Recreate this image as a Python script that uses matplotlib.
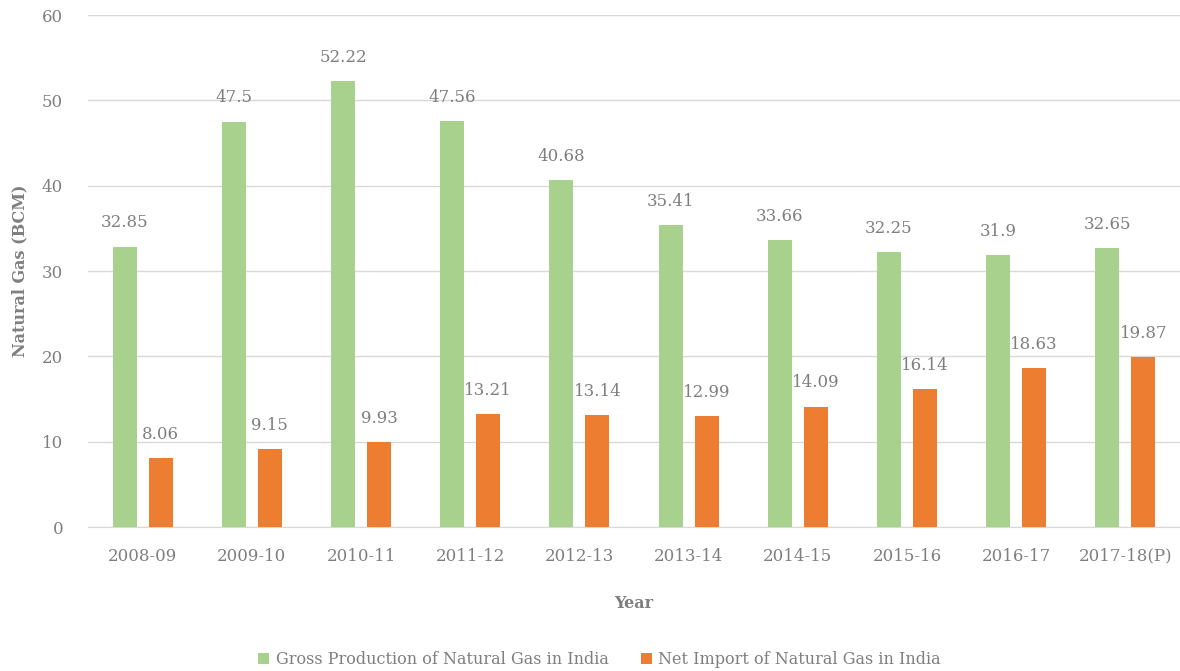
import numpy as np
import matplotlib
matplotlib.use("Agg")
import matplotlib.pyplot as plt

years = ["2008-09", "2009-10", "2010-11", "2011-12", "2012-13",
         "2013-14", "2014-15", "2015-16", "2016-17", "2017-18(P)"]
production = [32.85, 47.5, 52.22, 47.56, 40.68, 35.41, 33.66, 32.25, 31.9, 32.65]
net_import = [8.06, 9.15, 9.93, 13.21, 13.14, 12.99, 14.09, 16.14, 18.63, 19.87]

plt.rcParams['font.family'] = ['DejaVu Serif']
grey = '#7f7f7f'

fig = plt.figure(figsize=(11.8, 6.71), dpi=100)
ax = fig.add_axes([0.0746, 0.2146, 0.9254, 0.763])

x = np.arange(len(years))
w = 0.22
off = 0.165
b1 = ax.bar(x - off, production, w, color='#a9d18e', label='Gross Production of Natural Gas in India', zorder=3)
b2 = ax.bar(x + off, net_import, w, color='#ed7d31', label='Net Import of Natural Gas in India', zorder=3)

for bars in (b1, b2):
    for r in bars:
        h = r.get_height()
        ax.annotate('{:g}'.format(h), xy=(r.get_x() + r.get_width() / 2, h),
                    xytext=(0, 11), textcoords='offset points', ha='center', va='bottom',
                    fontsize=12, color=grey)

ax.set_ylim(0, 60)
ax.set_xlim(-0.5, len(years) - 0.5)
ax.set_yticks(range(0, 61, 10))
ax.set_xticks(x)
ax.set_xticklabels(years)
ax.tick_params(axis='both', length=0, colors=grey, labelsize=12)
ax.tick_params(axis='x', pad=15)
ax.tick_params(axis='y', pad=18)
ax.yaxis.grid(True, color='#d9d9d9', linewidth=1, zorder=0)
for s in ['top', 'right', 'left']:
    ax.spines[s].set_visible(False)
ax.spines['bottom'].set_color('#d9d9d9')

ax.set_ylabel('Natural Gas (BCM)', fontsize=11.5, fontweight='bold', color=grey, labelpad=10)
ax.set_xlabel('Year', fontsize=11.5, fontweight='bold', color=grey, labelpad=22)

leg = fig.legend(loc='lower center', bbox_to_anchor=(0.508, -0.017), ncol=2, frameon=False,
                 fontsize=11.5, handlelength=0.7, handleheight=0.7, columnspacing=2.0,
                 handletextpad=0.4)
for t in leg.get_texts():
    t.set_color(grey)

fig.savefig('out.png', dpi=100)
